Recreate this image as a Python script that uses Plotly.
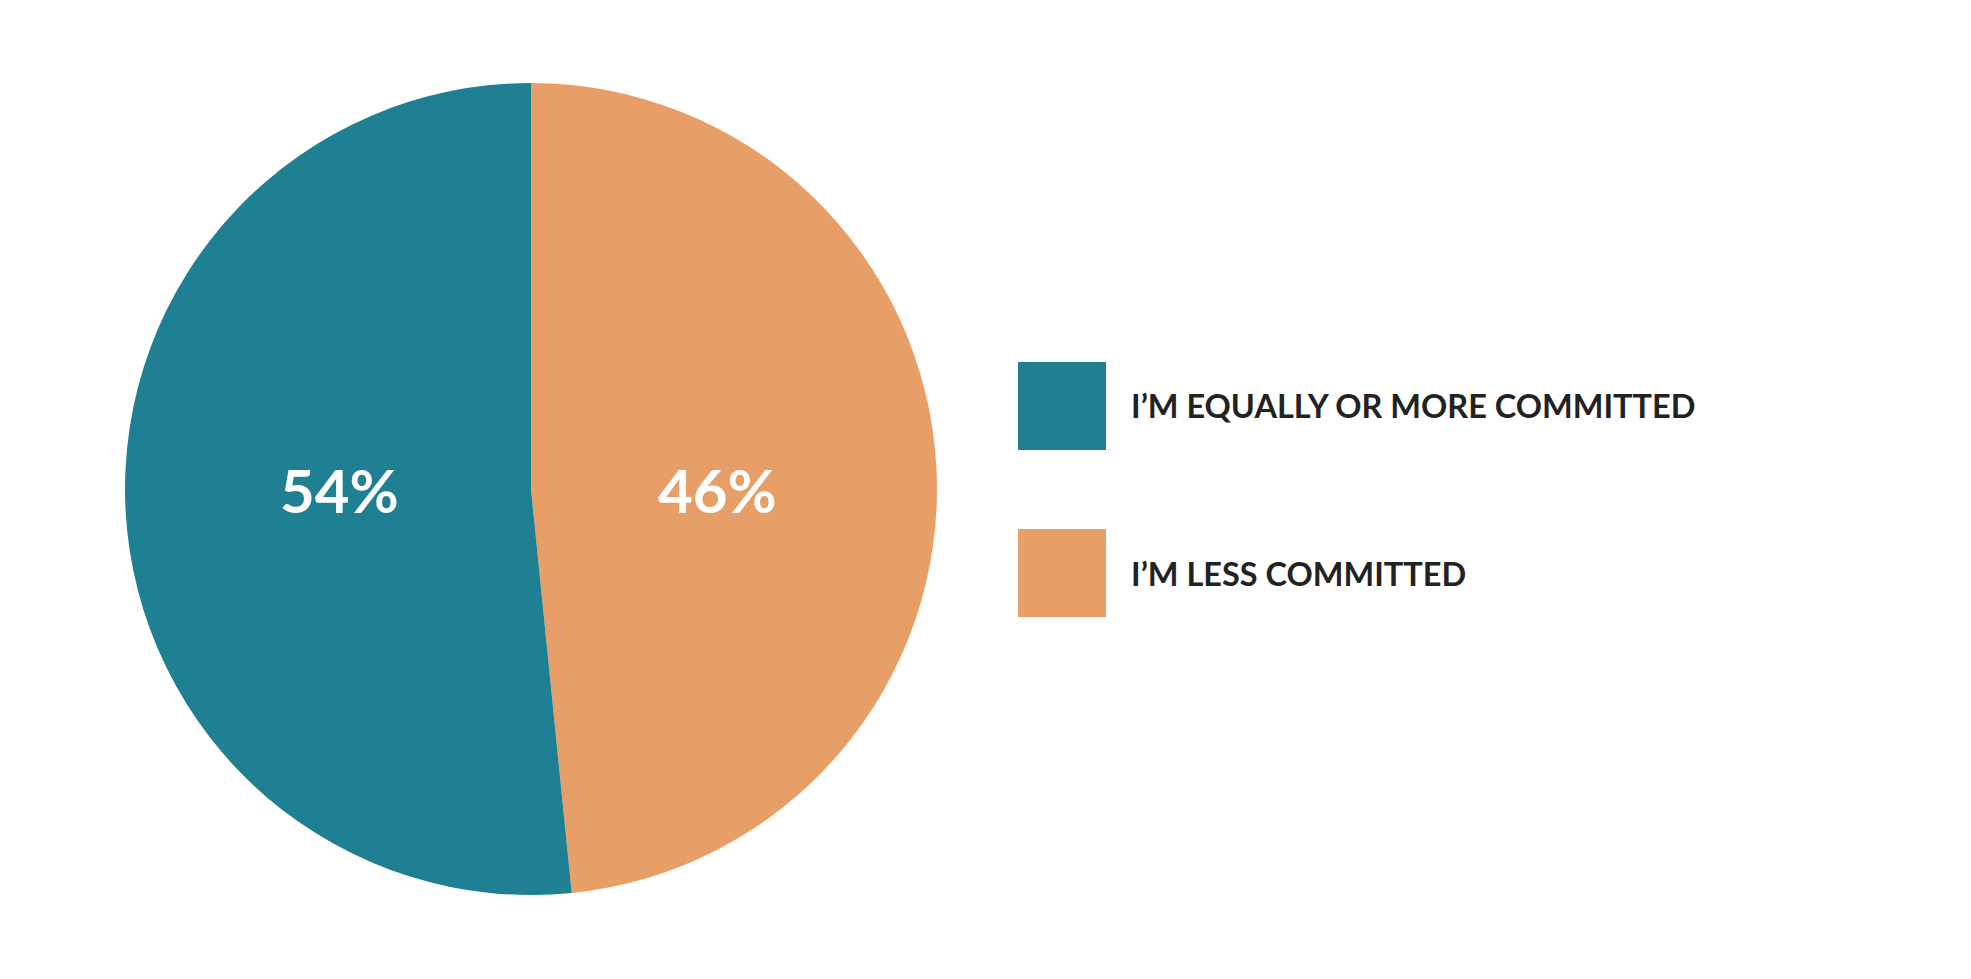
import plotly.graph_objects as go

# ---- data ----
categories = ["I’M EQUALLY OR MORE COMMITTED", "I’M LESS COMMITTED"]
slice_shares = [51.6, 48.4]          # slice sizes as drawn in the reference
pct_labels = ["54%", "46%"]           # labels printed on the slices
colors = ["#1F8093", "#E89F67"]

W, H = 1971, 979
OFF = 8  # page body margin

def px(x):
    return (x - OFF) / W

def py(y):
    return 1 - (y - OFF) / H

# slices listed starting from 12 o'clock going clockwise (orange first)
fig = go.Figure(go.Pie(
    labels=categories[::-1],
    values=slice_shares[::-1],
    sort=False,
    direction="clockwise",
    rotation=0,
    marker=dict(colors=colors[::-1], line=dict(width=0)),
    textinfo="none",
    hoverinfo="label+percent",
    showlegend=False,
    domain=dict(x=[px(125), px(937)], y=[py(895), py(83)]),
))

annotations = []
# slice labels
label_pos = [(339, 490), (717, 490)]
for (lx, ly), t in zip(label_pos, pct_labels):
    annotations.append(dict(
        x=px(lx), y=py(ly), xref="paper", yref="paper",
        text=t, showarrow=False, xanchor="center", yanchor="middle",
        font=dict(family="Lato", size=60, color="white", weight="bold"),
    ))

# custom legend
shapes = []
legend_rows = [406, 573]
for cy, name, col in zip(legend_rows, categories, colors):
    shapes.append(dict(
        type="rect", xref="paper", yref="paper",
        x0=px(1018), x1=px(1106), y0=py(cy + 44), y1=py(cy - 44),
        fillcolor=col, line=dict(width=0),
    ))
    annotations.append(dict(
        x=px(1129), y=py(cy), xref="paper", yref="paper",
        text=name, showarrow=False, xanchor="left", yanchor="middle",
        font=dict(family="Lato", size=32.5, color="#222222", weight="bold"),
    ))

fig.update_layout(
    width=W, height=H,
    margin=dict(l=0, r=0, t=0, b=0),
    paper_bgcolor="white",
    plot_bgcolor="white",
    annotations=annotations,
    shapes=shapes,
)

fig.write_html("out.html")
